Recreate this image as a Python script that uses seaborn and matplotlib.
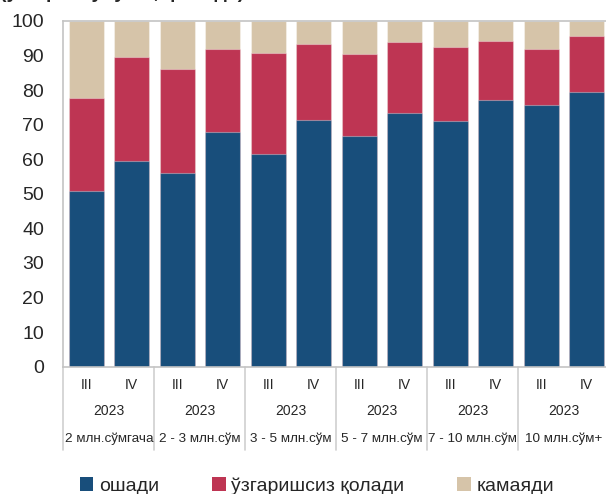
import numpy as np
import pandas as pd
import matplotlib
matplotlib.use('Agg')
import matplotlib.pyplot as plt
import matplotlib.transforms as mtransforms
from matplotlib.patches import Patch
import seaborn as sns

# data (ulushlar, foizda)
groups = ['2 млн.сўмгача', '2 - 3 млн.сўм', '3 - 5 млн.сўм',
          '5 - 7 млн.сўм', '7 - 10 млн.сўм', '10 млн.сўм+']
quarters = ['III', 'IV']
year = '2023'
oshadi = [50.8, 59.4, 56.1, 67.8, 61.4, 71.3, 66.8, 73.5, 71.1, 77.2, 75.8, 79.5]
uzgarishsiz = [26.9, 30.2, 30.0, 24.0, 29.3, 22.0, 23.7, 20.5, 21.4, 17.0, 16.1, 16.2]
kamayadi = [22.3, 10.4, 13.9, 8.2, 9.3, 6.7, 9.5, 6.0, 7.5, 5.8, 8.1, 4.3]
series_names = ['ошади', 'ўзгаришсиз қолади', 'камаяди']
colors = ['#184e7b', '#be3553', '#d6c4a9']

keys = [f'{g}|{q}' for g in groups for q in quarters]
df = pd.DataFrame({'key': keys, 'osh': oshadi, 'uzg': uzgarishsiz, 'kam': kamayadi})
df['c1'] = df['osh']
df['c2'] = df['osh'] + df['uzg']
df['c3'] = df['c2'] + df['kam']

sns.set_style('white')
plt.rcParams['font.family'] = ['Liberation Sans', 'DejaVu Sans']

fig = plt.figure(figsize=(6.06, 4.94), dpi=100)
ax = fig.add_axes([0.1045, 0.2577, 0.901, 0.6998])

edge = (1, 1, 1, 0.35)
for col, c in zip(['c3', 'c2', 'c1'], colors[::-1]):
    sns.barplot(data=df, x='key', y=col, order=keys, color=c, width=0.77,
                edgecolor=edge, linewidth=0.8, saturation=1, ax=ax)

ax.set_ylim(0, 100)
ax.set_yticks(range(0, 101, 10))
ax.tick_params(axis='y', labelsize=14, length=0, pad=14)
ax.set_xticks([])
ax.set_xlabel('')
ax.set_ylabel('')
for s in ax.spines.values():
    s.set_color('#c4c4c4')
    s.set_linewidth(1.2)

# multi-level x labels
trans = mtransforms.blended_transform_factory(ax.transData, ax.transAxes)
for i, k in enumerate(keys):
    ax.text(i, -0.053, k.split('|')[1], transform=trans, ha='center', va='center', fontsize=10)
for j, g in enumerate(groups):
    xc = 2 * j + 0.5
    ax.text(xc, -0.127, year, transform=trans, ha='center', va='center', fontsize=10)
    ax.text(xc, -0.208, g, transform=trans, ha='center', va='center', fontsize=9.7)
for j in range(len(groups) + 1):
    xb = 2 * j - 0.5
    ax.plot([xb, xb], [0, -0.24], transform=trans, color='#d0d0d0', lw=1.2, clip_on=False)
ax.set_xlim(-0.5, len(keys) - 0.5)

handles = [Patch(facecolor=c, edgecolor='none') for c in colors]
fig.legend(handles, series_names, loc='center', bbox_to_anchor=(0.523, 0.016),
           ncol=3, frameon=False, fontsize=14, handlelength=0.7, handleheight=0.7,
           handletextpad=0.3, columnspacing=2.7)

# title cut off at the top of the picture
fig.text(0.0, 1.004, '(ўзгариш улуши, фоизда)', ha='left', va='baseline',
         fontsize=14, fontweight='bold')

fig.savefig('out.png', dpi=100)
